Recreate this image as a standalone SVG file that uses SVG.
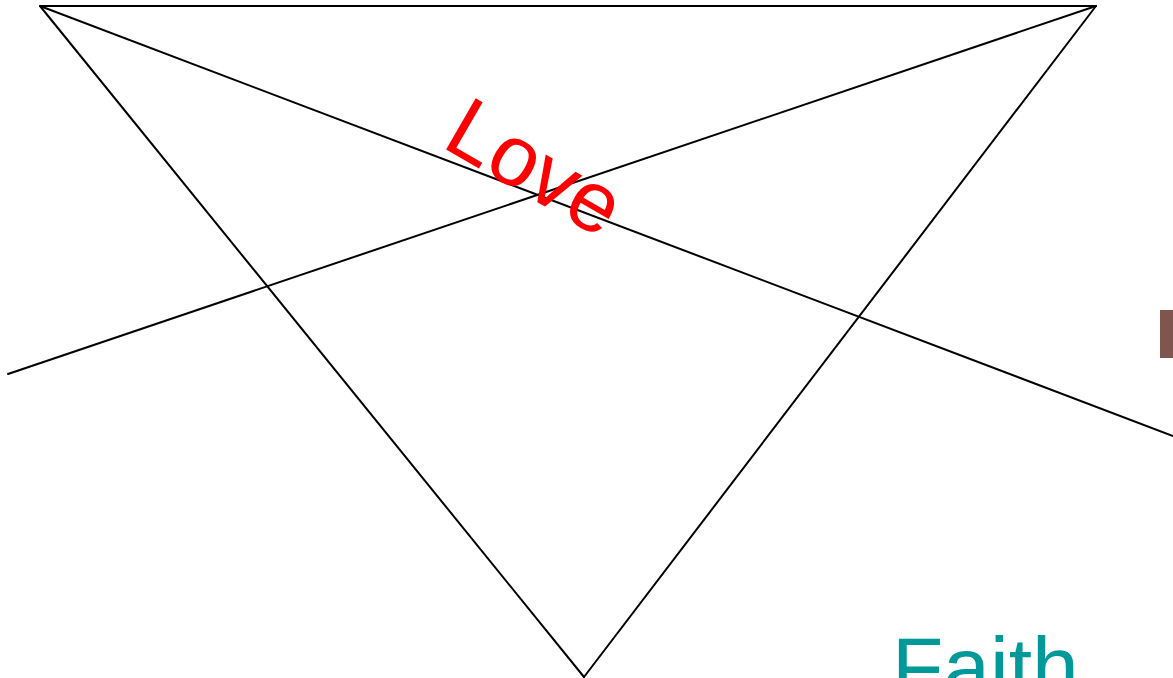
<svg xmlns="http://www.w3.org/2000/svg" width="1173" height="678" viewBox="0 0 1173 678">
<style>
.ln{stroke:#000;stroke-width:2;fill:none;stroke-linecap:round}
.lbl{font-family:"Liberation Sans",Arial,sans-serif}
</style>
<rect width="1173" height="678" fill="#fff"/>
<g id="connectors">
<line class="ln" x1="40" y1="6" x2="1096" y2="6"/>
<line class="ln" x1="40" y1="6" x2="584" y2="677"/>
<line class="ln" x1="1096" y1="6" x2="584" y2="677"/>
<line class="ln" x1="40" y1="6" x2="1173" y2="436"/>
<line class="ln" x1="1096" y1="6" x2="8" y2="374"/>
</g>
<g id="love">
<text class="lbl" transform="translate(440,146) rotate(30)" font-size="86" fill="#ff0000">Love</text>
</g>
<g id="box">
<rect x="1160" y="310" width="13" height="48" fill="#7f5550"/>
</g>
<g id="faith">
<text class="lbl" x="892" y="696" font-size="84" fill="#009999">Faith</text>
</g>
</svg>
